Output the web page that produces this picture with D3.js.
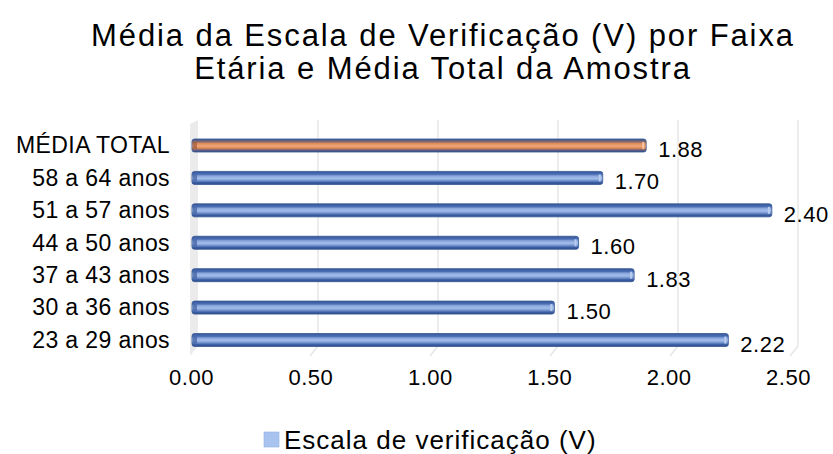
<!DOCTYPE html>
<html>
<head>
<meta charset="utf-8">
<script src="https://cdn.jsdelivr.net/npm/d3@7"></script>
<style>
  body { margin: 0; background: #ffffff; }
  text { font-family: "Liberation Sans", Arial, sans-serif; fill: #000000; }
</style>
</head>
<body>
<svg id="chart" width="833" height="454"></svg>
<script>
const categories = [
  "MÉDIA TOTAL",
  "58 a 64 anos",
  "51 a 57 anos",
  "44 a 50 anos",
  "37 a 43 anos",
  "30 a 36 anos",
  "23 a 29 anos",
];
const values = [1.88, 1.7, 2.4, 1.6, 1.83, 1.5, 2.22];
const xTicks = [0, 0.5, 1, 1.5, 2, 2.5];
const titleLines = [
  "Média da Escala de Verificação (V) por Faixa",
  "Etária e Média Total da Amostra",
];
const legendLabel = "Escala de verificação (V)";

const svg = d3.select("#chart");

// front plane (labels), bar plane, back wall (gridlines)
const xFront = d3.scaleLinear().domain([0, 2.5]).range([191, 788]);
const xBar = d3.scaleLinear().domain([0, 2.5]).range([192, 796]);
const xBack = d3.scaleLinear().domain([0, 2.5]).range([198, 798]);
const y = d3.scalePoint().domain(categories).range([145.5, 340]);

const wallTop = 120;
const wallBottom = 346;
const floorFront = 356;
const barH = 13;

// gradients
const defs = svg.append("defs");
const grad = (id, stops) => {
  const g = defs
    .append("linearGradient")
    .attr("id", id)
    .attr("x1", "0%")
    .attr("x2", "0%")
    .attr("y1", "0%")
    .attr("y2", "100%");
  stops.forEach((s) =>
    g.append("stop").attr("offset", s[0]).attr("stop-color", s[1])
  );
};
grad("blue-bar", [
  ["0%", "#36589c"],
  ["22%", "#4a6db3"],
  ["35%", "#8aa7dc"],
  ["55%", "#a3bdea"],
  ["72%", "#6f8fcc"],
  ["85%", "#3c5fa3"],
  ["100%", "#2f4f8f"],
]);
grad("orange-bar", [
  ["0%", "#36589c"],
  ["22%", "#8a6a6a"],
  ["35%", "#e08d5c"],
  ["55%", "#f0a77b"],
  ["72%", "#d9824f"],
  ["85%", "#6a5f80"],
  ["100%", "#2f4f8f"],
]);

// left wall
svg
  .append("path")
  .attr(
    "d",
    d3.line()([
      [190, wallTop + 4],
      [198, wallTop],
      [198, wallBottom],
      [190, floorFront],
    ])
  )
  .attr("fill", "#ebebeb");

// gridlines on back wall and floor
svg
  .append("g")
  .selectAll("path")
  .data(xTicks.filter((d) => d > 0))
  .join("path")
  .attr("d", (d) =>
    d3.line()([
      [xBack(d), wallTop],
      [xBack(d), wallBottom],
      [xBack(d) - 8, floorFront],
    ])
  )
  .attr("fill", "none")
  .attr("stroke", "#e3e3e3")
  .attr("stroke-width", 1.3);

// bars
const bars = svg.append("g");
bars
  .selectAll("rect.bar")
  .data(values)
  .join("rect")
  .attr("class", "bar")
  .attr("x", xBar(0))
  .attr("y", (d, i) => y(categories[i]) - barH / 2)
  .attr("width", (d) => xBar(d) - xBar(0))
  .attr("height", barH)
  .attr("rx", 2.5)
  .attr("fill", (d, i) => (i === 0 ? "url(#orange-bar)" : "url(#blue-bar)"))
  .attr("stroke", "#33558f")
  .attr("stroke-width", 0.8);

// darker left end and lighter right cap
bars
  .selectAll("rect.lcap")
  .data(values)
  .join("rect")
  .attr("class", "lcap")
  .attr("x", xBar(0) + 1)
  .attr("y", (d, i) => y(categories[i]) - barH / 2 + 3)
  .attr("width", 4)
  .attr("height", barH - 6)
  .attr("fill", (d, i) => (i === 0 ? "#a05a3a" : "#3e5f9f"))
  .attr("opacity", 0.7);
bars
  .selectAll("rect.rcap")
  .data(values)
  .join("rect")
  .attr("class", "rcap")
  .attr("x", (d) => xBar(d) - 4)
  .attr("y", (d, i) => y(categories[i]) - barH / 2 + 3)
  .attr("width", 2)
  .attr("height", barH - 6)
  .attr("fill", (d, i) => (i === 0 ? "#f6c3a2" : "#b9cdf0"));

// value labels
svg
  .append("g")
  .selectAll("text")
  .data(values)
  .join("text")
  .attr("x", (d) => xBar(d) + 12)
  .attr("y", (d, i) => y(categories[i]) + 4)
  .attr("dominant-baseline", "central")
  .style("font-size", "22px")
  .style("letter-spacing", "0.5px")
  .text((d) => d3.format(".2f")(d));

// category axis
svg
  .append("g")
  .attr("transform", "translate(180,0)")
  .call(d3.axisLeft(y).tickSize(0).tickPadding(10))
  .call((g) => g.select(".domain").remove())
  .selectAll("text")
  .style("font-size", "23px")
  .style("letter-spacing", "0.4px")
  .style("font-family", '"Liberation Sans", Arial, sans-serif');

// value axis (front edge)
svg
  .append("g")
  .attr("transform", "translate(0,373)")
  .call(
    d3
      .axisBottom(xFront)
      .tickValues(xTicks)
      .tickFormat(d3.format(".2f"))
      .tickSize(0)
      .tickPadding(0)
  )
  .call((g) => g.select(".domain").remove())
  .selectAll("text")
  .attr("dy", "0.55em")
  .style("font-size", "22px")
  .style("letter-spacing", "0.5px")
  .style("font-family", '"Liberation Sans", Arial, sans-serif');

// title
svg
  .append("g")
  .selectAll("text")
  .data(titleLines)
  .join("text")
  .attr("x", 443)
  .attr("y", (d, i) => 35 + i * 33)
  .attr("text-anchor", "middle")
  .attr("dominant-baseline", "central")
  .style("font-size", "31px")
  .style("letter-spacing", "1.9px")
  .text((d) => d);

// legend
const legend = svg.append("g").attr("transform", "translate(264,432)");
legend
  .append("rect")
  .attr("width", 15)
  .attr("height", 15)
  .attr("fill", "#a9c3ef")
  .attr("stroke", "#8fb0e6")
  .attr("stroke-width", 0.6);
legend
  .append("text")
  .attr("x", 20)
  .attr("y", 8)
  .attr("dominant-baseline", "central")
  .style("font-size", "26px")
  .style("letter-spacing", "1px")
  .text(legendLabel);
</script>
</body>
</html>
